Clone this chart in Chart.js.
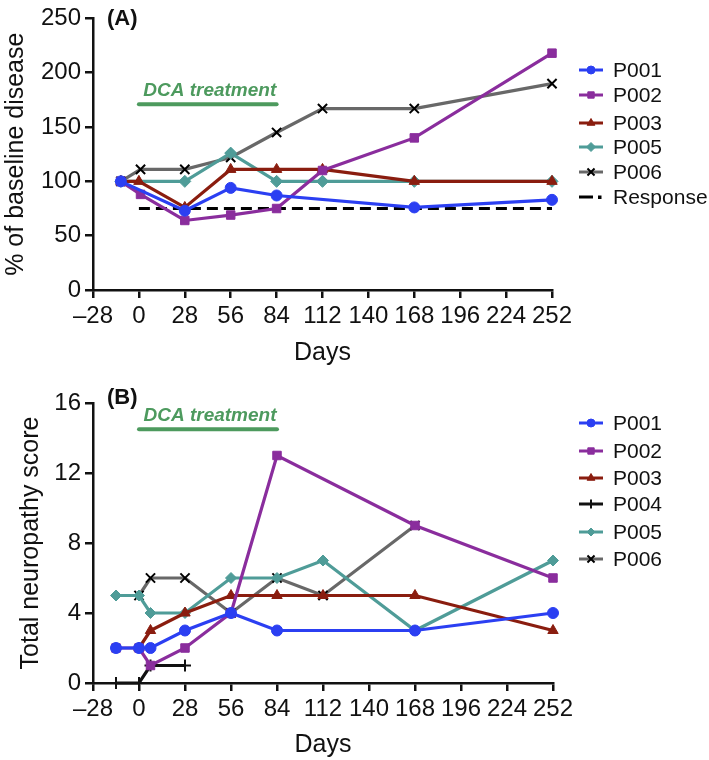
<!DOCTYPE html>
<html>
<head>
<meta charset="utf-8">
<script src="https://cdn.jsdelivr.net/npm/chart.js"></script>
<style>
body { margin: 0; background: #fff; }
canvas { position: absolute; left: 0; }
#chartA { top: 0; }
#chartB { top: 370px; }
</style>
</head>
<body>
<canvas id="chartA" width="709" height="370"></canvas>
<canvas id="chartB" width="709" height="390"></canvas>
<script>
// ---- panel A: % of baseline disease ----
var a_p001_days = [-11, 28, 56, 84, 168, 252];
var a_p001 = [100, 73, 94, 87, 76, 83];
var a_p002_days = [-11, 1, 28, 56, 84, 112, 168, 252];
var a_p002 = [100, 88, 64, 69, 75, 110, 140, 218];
var a_p003_days = [-11, 0, 28, 56, 84, 112, 168, 252];
var a_p003 = [100, 100, 76, 111, 111, 111, 100, 100];
var a_p005_days = [-11, 28, 56, 84, 112, 168, 252];
var a_p005 = [100, 100, 126, 100, 100, 100, 100];
var a_p006_days = [-11, 1, 28, 56, 84, 112, 168, 252];
var a_p006 = [100, 111, 111, 122, 145, 167, 167, 190];
var response_days = [0, 252];
var response_level = [75, 75];

// ---- panel B: total neuropathy score ----
var b_p001_days = [-14, 0, 7, 28, 56, 84, 168, 252];
var b_p001 = [2, 2, 2, 3, 4, 3, 3, 4];
var b_p002_days = [-14, 0, 7, 28, 56, 84, 168, 252];
var b_p002 = [2, 2, 1, 2, 4, 13, 9, 6];
var b_p003_days = [0, 7, 28, 56, 84, 112, 168, 252];
var b_p003 = [2, 3, 4, 5, 5, 5, 5, 3];
var b_p004_days = [-14, 0, 7, 28];
var b_p004 = [0, 0, 1, 1];
var b_p005_days = [-14, 0, 7, 28, 56, 84, 112, 168, 252];
var b_p005 = [5, 5, 4, 4, 6, 6, 7, 3, 7];
var b_p006_days = [0, 7, 28, 56, 84, 112, 168];
var b_p006 = [5, 6, 6, 4, 6, 5, 9];

// treatment window (days)
var dca_window = [0, 84];

var FONT = '"Liberation Sans", Arial, sans-serif';

function pts(days, vals) {
    return days.map(function (d, i) { return { x: d, y: vals[i] }; });
}

function series(label, days, vals, color, style, r, markColor) {
    return {
        label: label,
        data: pts(days, vals),
        borderColor: color,
        backgroundColor: markColor || color,
        pointBackgroundColor: markColor || color,
        pointBorderColor: markColor || color,
        pointBorderWidth: style === 'crossRot' || style === 'cross' ? 2 : 1,
        borderWidth: 3.2,
        pointStyle: style,
        pointRadius: r,
        pointHoverRadius: r,
        tension: 0,
        clip: false
    };
}

// legend drawn at the right side, line + marker like the original
function sideLegend(y0, rows) {
    return {
        id: 'sideLegend',
        afterDraw: function (chart) {
            var ctx = chart.ctx;
            ctx.save();
            chart.data.datasets.forEach(function (ds, i) {
                var y = y0 + rows[i];
                ctx.strokeStyle = ds.borderColor;
                ctx.lineWidth = 3;
                if (ds.dashLegend) {
                    ctx.beginPath();
                    ctx.moveTo(579, y); ctx.lineTo(593, y); ctx.stroke();
                    ctx.fillStyle = ds.borderColor;
                    ctx.fillRect(598, y - 1.5, 3.5, 3.5);
                } else {
                    ctx.beginPath();
                    ctx.moveTo(579, y); ctx.lineTo(603, y); ctx.stroke();
                    ctx.fillStyle = ds.pointBackgroundColor;
                    ctx.strokeStyle = ds.pointBorderColor;
                    ctx.lineWidth = ds.pointBorderWidth;
                    Chart.helpers.drawPoint(ctx, {
                        pointStyle: ds.pointStyle,
                        radius: Math.max(3.5, ds.pointRadius - 1.5),
                        rotation: 0,
                        borderWidth: ds.pointBorderWidth
                    }, 591, y);
                }
                ctx.fillStyle = '#111';
                ctx.font = '21px ' + FONT;
                ctx.textBaseline = 'middle';
                ctx.textAlign = 'left';
                ctx.fillText(ds.label, 613, y + 1);
            });
            ctx.restore();
        }
    };
}

// panel letter + DCA treatment bar
function annotations(letter, letterY, dcaLevel) {
    return {
        id: 'annot',
        afterDatasetsDraw: function (chart) {
            var ctx = chart.ctx;
            var xs = chart.scales.x, ys = chart.scales.y;
            var x0 = xs.getPixelForValue(dca_window[0]);
            var x1 = xs.getPixelForValue(dca_window[1]);
            var y = ys.getPixelForValue(dcaLevel);
            ctx.save();
            ctx.strokeStyle = '#4d9a5e';
            ctx.lineWidth = 4;
            ctx.lineCap = 'round';
            ctx.beginPath(); ctx.moveTo(x0, y); ctx.lineTo(x1, y); ctx.stroke();
            ctx.fillStyle = '#4d9a5e';
            ctx.font = 'italic bold 19px ' + FONT;
            ctx.textAlign = 'center';
            ctx.textBaseline = 'alphabetic';
            ctx.fillText('DCA treatment', (x0 + x1) / 2 + 2, y - 8);
            ctx.fillStyle = '#111';
            ctx.font = 'bold 22px ' + FONT;
            ctx.textAlign = 'left';
            ctx.textBaseline = 'middle';
            ctx.fillText(letter, 107, letterY);
            ctx.restore();
        }
    };
}

function axes(yMax, yStep, yTitle, yWidth, xHeight, titlePad) {
    var tickFont = { family: FONT, size: 24 };
    return {
        x: {
            type: 'linear',
            min: -28, max: 252,
            afterFit: function (s) { s.height = xHeight; },
            ticks: {
                stepSize: 28, color: '#111', font: tickFont, padding: 4, maxRotation: 0,
                callback: function (v) { return v < 0 ? '\u2013' + Math.abs(v) : v; }
            },
            grid: { drawOnChartArea: false, drawTicks: true, tickLength: 8, color: '#111', lineWidth: 2.5 },
            border: { display: true, color: '#111', width: 2.5 },
            title: { display: true, text: 'Days', color: '#111', font: { family: FONT, size: 25 }, padding: { top: 0, bottom: titlePad } }
        },
        y: {
            min: 0, max: yMax,
            afterFit: function (s) { s.width = yWidth; },
            ticks: { stepSize: yStep, color: '#111', font: tickFont, padding: 4 },
            grid: { drawOnChartArea: false, drawTicks: true, tickLength: 8, color: '#111', lineWidth: 2.5 },
            border: { display: true, color: '#111', width: 2.5 },
            title: { display: true, text: yTitle, color: '#111', font: { family: FONT, size: 25 }, padding: { top: 1, bottom: 0 } }
        }
    };
}

var respDs = {
    label: 'Response',
    data: pts(response_days, response_level),
    borderColor: '#000',
    borderWidth: 3,
    borderDash: [11, 6],
    pointRadius: 0,
    dashLegend: true,
    clip: false
};

new Chart(document.getElementById('chartA'), {
    type: 'line',
    data: {
        datasets: [
            series('P001', a_p001_days, a_p001, '#2b3ff2', 'circle', 5.5),
            series('P002', a_p002_days, a_p002, '#8a2d9d', 'rect', 6),
            series('P003', a_p003_days, a_p003, '#8a1d0f', 'triangle', 6),
            series('P005', a_p005_days, a_p005, '#4f9c98', 'rectRot', 6),
            series('P006', a_p006_days, a_p006, '#686868', 'crossRot', 6.5, '#000'),
            respDs
        ]
    },
    options: {
        responsive: false,
        animation: false,
        devicePixelRatio: 1,
        layout: { padding: { left: 0, right: 157, top: 12, bottom: 0 } },
        plugins: { legend: { display: false }, tooltip: { enabled: false } },
        scales: axes(250, 50, '% of baseline disease', 93, 80, 2)
    },
    plugins: [sideLegend(70, [0, 25, 53, 77, 102, 127]), annotations('(A)', 19, 171)]
});

new Chart(document.getElementById('chartB'), {
    type: 'line',
    data: {
        datasets: [
            series('P001', b_p001_days, b_p001, '#2b3ff2', 'circle', 5.5),
            series('P002', b_p002_days, b_p002, '#8a2d9d', 'rect', 6),
            series('P003', b_p003_days, b_p003, '#8a1d0f', 'triangle', 6),
            series('P004', b_p004_days, b_p004, '#111', 'cross', 6),
            series('P005', b_p005_days, b_p005, '#4f9c98', 'rectRot', 5.5),
            series('P006', b_p006_days, b_p006, '#686868', 'crossRot', 6.5, '#000')
        ]
    },
    options: {
        responsive: false,
        animation: false,
        devicePixelRatio: 1,
        layout: { padding: { left: 15, right: 156, top: 33, bottom: 0 } },
        plugins: { legend: { display: false }, tooltip: { enabled: false } },
        scales: axes(16, 4, 'Total neuropathy score', 78, 77, 0)
    },
    plugins: [sideLegend(53, [0, 28, 55, 81, 109, 136]), annotations('(B)', 28, 14.5)]
});
</script>
</body>
</html>
